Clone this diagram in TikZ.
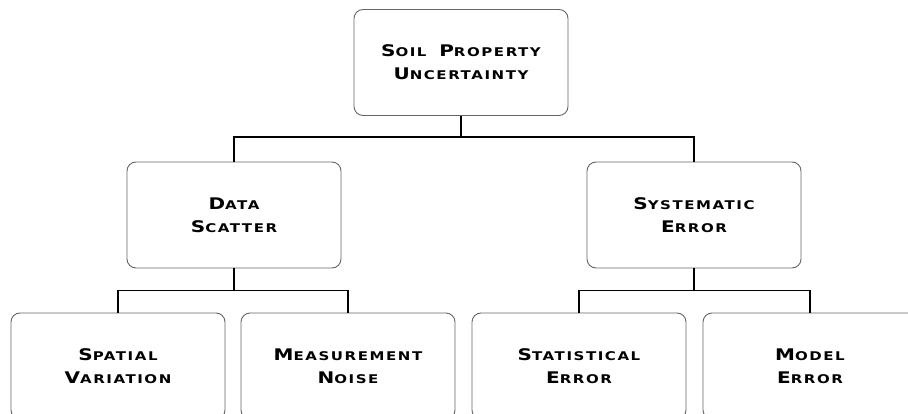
\documentclass[tikz,border=0pt]{standalone}
\usepackage{fontspec}
\setsansfont[LetterSpace=13,FakeStretch=1.25]{DejaVu Sans}
\newcommand{\capw}[2]{{\fontsize{16}{23}\selectfont #1}{\fontsize{12}{23}\selectfont #2}}
\tikzset{
  catbox/.style={draw=black!60, line width=0.9pt, rounded corners=9pt,
    minimum width=214pt, minimum height=106pt, align=center,
    font=\sffamily\bfseries\fontsize{12}{23}\selectfont, inner sep=0pt},
  link/.style={line width=1.3pt}
}
\begin{document}
\begin{tikzpicture}[x=1pt, y=-1pt]
    \useasboundingbox (0,0) rectangle (908,414);
    \clip (0,0) rectangle (908,414);

    % categories
    \node[catbox] (root) at (461,62.5) {\capw{S}{OIL}\hspace{6pt} \capw{P}{ROPERTY}\\\capw{U}{NCERTAINTY}};

    \node[catbox] (scatter) at (234,215) {\capw{D}{ATA}\\\capw{S}{CATTER}};
    \node[catbox] (syserr) at (694,215) {\capw{S}{YSTEMATIC}\\\capw{E}{RROR}};

    \node[catbox] (spatial) at (118,366) {\capw{S}{PATIAL}\\\capw{V}{ARIATION}};
    \node[catbox] (noise) at (348,366) {\capw{M}{EASUREMENT}\\\capw{N}{OISE}};
    \node[catbox] (staterr) at (579,366) {\capw{S}{TATISTICAL}\\\capw{E}{RROR}};
    \node[catbox] (modelerr) at (810,366) {\capw{M}{ODEL}\\\capw{E}{RROR}};

    % tree links
    \draw[link] (root.south) -- ++(0,21) -| (scatter.north);
    \draw[link] (root.south) -- ++(0,21) -| (syserr.north);

    \draw[link] (scatter.south) -- ++(0,22) -| (spatial.north);
    \draw[link] (scatter.south) -- ++(0,22) -| (noise.north);

    \draw[link] (syserr.south) -- ++(0,22) -| (staterr.north);
    \draw[link] (syserr.south) -- ++(0,22) -| (modelerr.north);
\end{tikzpicture}
\end{document}
